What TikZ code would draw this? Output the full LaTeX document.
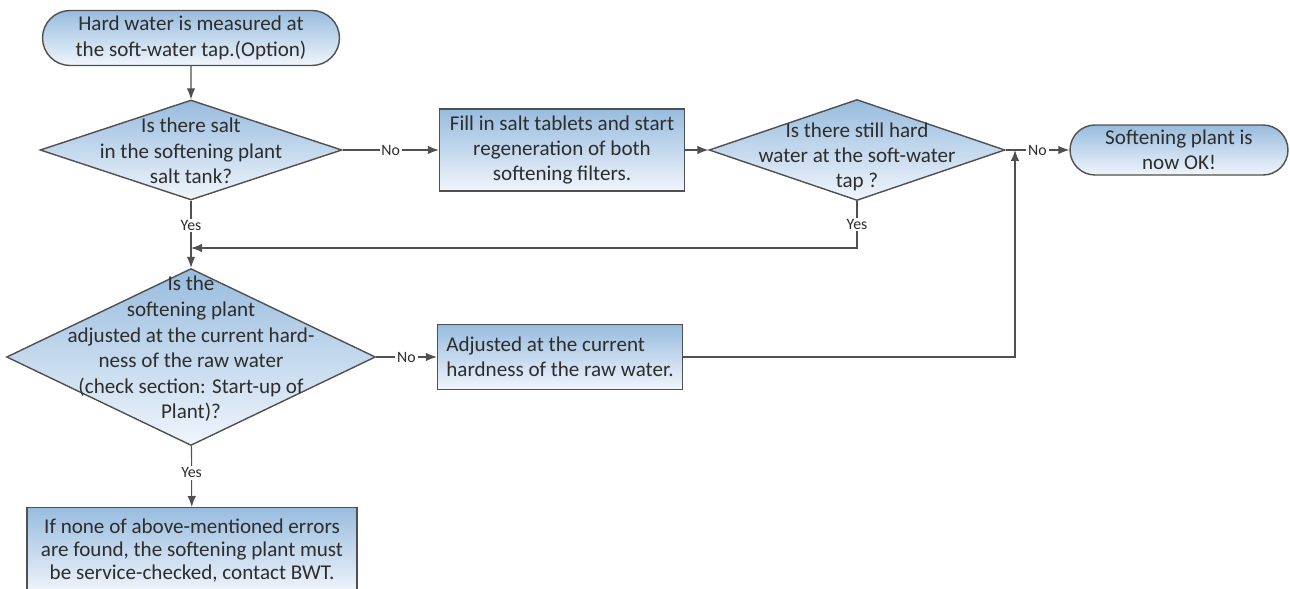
\documentclass[tikz,border=0pt]{standalone}
\usepackage{fontspec}
\setmainfont{Carlito}
\usetikzlibrary{shapes.geometric,shapes.misc,arrows.meta}
\definecolor{flowblue}{RGB}{152,188,222}
\definecolor{flowpale}{RGB}{240,245,252}
\definecolor{flowline}{RGB}{80,80,80}
\definecolor{flowtext}{RGB}{45,45,45}
\begin{document}
\begin{tikzpicture}[x=0.02cm,y=-0.02cm,
    every node/.style={text=flowtext,font=\fontsize{12}{14.4}\selectfont},
    shaded/.style={draw=flowline,line width=0.8pt,top color=flowblue,bottom color=flowpale},
    terminal/.style={shaded,rounded rectangle,minimum height=1.1cm,inner sep=0pt,align=center},
    process/.style={shaded,rectangle,inner sep=0pt,align=center},
    decision/.style={shaded,diamond,inner sep=0pt},
    words/.style={align=center,inner sep=0pt},
    answer/.style={font=\fontsize{9}{10}\selectfont,fill=white,inner sep=1pt},
    flow/.style={draw=flowline,line width=0.6pt,-{Latex[length=2.2mm,width=1.7mm]}}]
    \useasboundingbox (0,0) rectangle (1290,588);
    %% top row
    \node[terminal,minimum width=5.94cm] (start) at (191,38)
        {Hard water is measured at\\the soft-water tap.(Option)};
    \node[decision,minimum width=6.04cm,minimum height=2cm] (salt) at (191,150) {};
    \node[words] (salttext) at (191,151)
        {Is there salt\\in the softening plant\\salt tank?};
    \node[process,minimum width=4.9cm,minimum height=1.64cm] (fill) at (562,150)
        {Fill in salt tablets and start\\regeneration of both\\softening filters.};
    \node[decision,minimum width=5.92cm,minimum height=2.02cm] (still) at (857,150) {};
    \node[words] (stilltext) at (857,157)
        {Is there still hard\\water at the soft-water\\tap ?};
    \node[terminal,minimum width=4.36cm,minimum height=1cm] (ok) at (1179,150)
        {Softening plant is\\now OK!};
    %% second row
    \node[decision,minimum width=7.38cm,minimum height=3.54cm] (adjusted) at (191,357) {};
    \node[words,font=\fontsize{12}{14.6}\selectfont] (adjustedtext) at (191,349)
        {Is the\\softening plant\\adjusted at the current hard-\\ness of the raw water\\(check section: Start-up of\\Plant)?};
    \node[process,minimum width=4.9cm,minimum height=1.3cm,align=left] (adjust) at (560,357)
        {Adjusted at the current\\hardness of the raw water.};
    %% last box
    \node[process,minimum width=6.6cm,minimum height=1.7cm,anchor=north,font=\fontsize{12}{13}\selectfont] (service) at (192,507)
        {If none of above-mentioned errors\\are found, the softening plant must\\be service-checked, contact BWT.};
    %% connectors
    \coordinate (join) at (191,248);
    \coordinate (merge) at (1015,150);
    \draw[flow] (start) -- (salt);
    \draw[flow] (salt) -- node[answer]{No} (fill);
    \draw[flow] (fill) -- (still);
    \draw[flow] (still) -- node[answer]{No} (ok);
    \draw[flow] (salt) -- node[answer,pos=0.37]{Yes} (adjusted);
    \draw[flow] (still.south) -- node[answer]{Yes} (still.south |- join) -- (join);
    \draw[flow] (adjusted) -- node[answer]{No} (adjust);
    \draw[flow] (adjust.east) -| (merge);
    \draw[flow] (adjusted) -- node[answer,pos=0.44]{Yes} (service);
\end{tikzpicture}
\end{document}
